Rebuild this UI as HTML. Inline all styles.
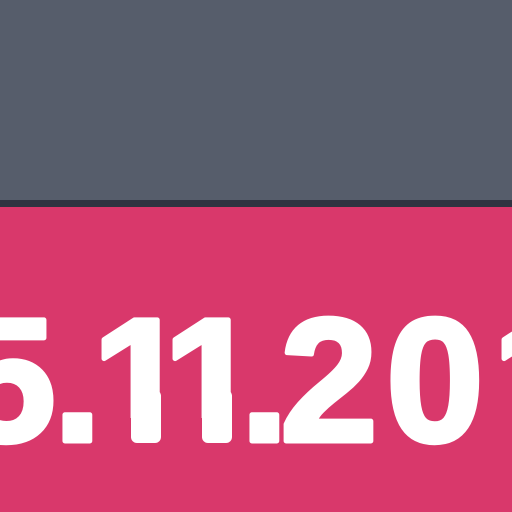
<!DOCTYPE html>
<html><head><meta charset="utf-8"><style>
html,body{margin:0;padding:0;width:512px;height:512px;overflow:hidden;background:#d9386b}
.t{font-family:"Liberation Sans",Arial,sans-serif;font-weight:700;font-size:176px;fill:#fff;stroke:#fff;stroke-width:5px;stroke-linejoin:round}
</style></head><body>
<svg width="512" height="512" viewBox="0 0 512 512">
<rect x="0" y="0" width="512" height="201" fill="#565d6b"/>
<rect x="0" y="200" width="512" height="7" fill="#2f3341"/>
<rect x="0" y="207" width="512" height="305" fill="#d9386b"/>
<g class="t">
<text x="-42" y="441">5</text>
<text x="92" y="441">1</text>
<text x="163" y="441">1</text>
<text x="280" y="441">2</text>
<text x="386" y="441">0</text>
<text x="492" y="441">1</text>
</g>
<g>
<rect x="92" y="418" width="188" height="30" fill="#d9386b"/>
<rect x="494" y="418" width="18" height="30" fill="#d9386b"/>
<rect x="131" y="390" width="30" height="53" rx="6" fill="#fff"/>
<rect x="202" y="390" width="30" height="53" rx="6" fill="#fff"/>
</g>
<g class="t">
<text x="53" y="441">.</text>
<text x="240" y="441">.</text>
</g>
</svg>
</body></html>
